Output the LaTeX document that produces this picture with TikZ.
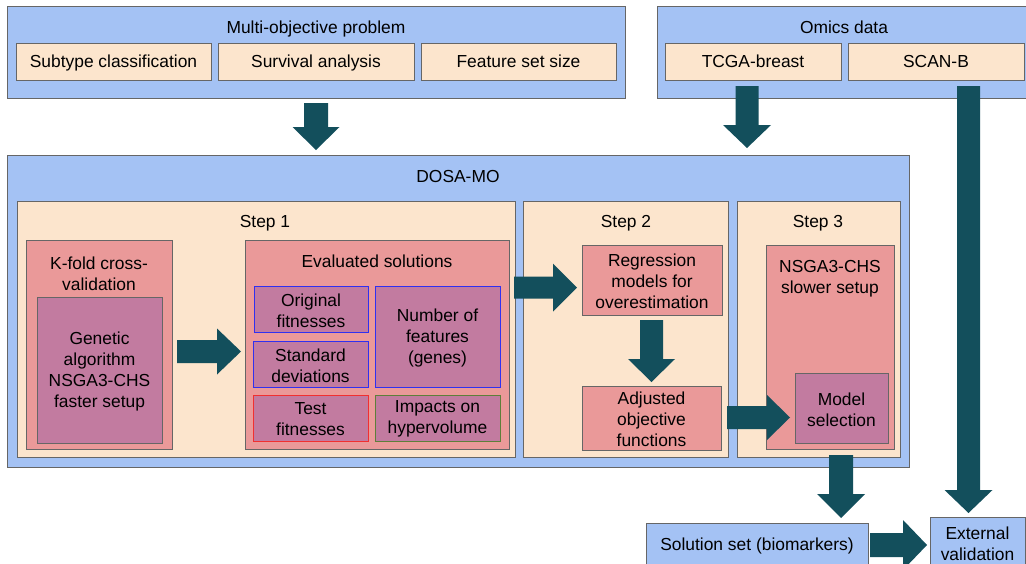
\documentclass[tikz,border=0pt]{standalone}
\usepackage{fontspec}
\setmainfont{Liberation Sans}
\usetikzlibrary{fit}
\definecolor{blueF}{HTML}{A4C2F4}
\definecolor{peachF}{HTML}{FCE5CD}
\definecolor{pinkF}{HTML}{EA9999}
\definecolor{mauveF}{HTML}{C27BA0}
\definecolor{arrowc}{HTML}{134F5C}
\definecolor{borderc}{HTML}{666666}
\definecolor{blueB}{HTML}{3030F0}
\definecolor{redB}{HTML}{F03030}
\definecolor{oliveB}{HTML}{5E7F3A}
\newcommand\DArr[6]{\fill[arrowc] (#1-#5,#2) -- (#1+#5,#2) -- (#1+#5,#3) -- (#1+#6,#3) -- (#1,#4) -- (#1-#6,#3) -- (#1-#5,#3) -- cycle;}
\newcommand\RArr[6]{\fill[arrowc] (#2,#1-#5) -- (#2,#1+#5) -- (#3,#1+#5) -- (#3,#1+#6) -- (#4,#1) -- (#3,#1-#6) -- (#3,#1-#5) -- cycle;}
\newcommand\bx[5]{\node[#1, fit={(#3) (#4)}] (#2) {}; \node[lbl] (#2-t) at (#2.center) {#5};}
\newcommand\bxs[5]{\node[#1, fit={(#3) (#4)}] (#2) {}; \node[lblone] (#2-t) at (#2.center) {#5};}
\tikzset{
  every node/.style={font=\fontsize{17.4}{21}\selectfont, text=black},
  box/.style={draw=borderc, line width=1pt, inner sep=0pt},
  bluebox/.style={box, fill=blueF},
  peachbox/.style={box, fill=peachF},
  pinkbox/.style={box, fill=pinkF},
  mauvebox/.style={box, fill=mauveF},
  lbl/.style={inner sep=0pt, align=center, yshift=-1.3pt},
  lblone/.style={inner sep=0pt, text height=12.5pt, text depth=3.5pt, yshift=-1.3pt}
}
\begin{document}
\begin{tikzpicture}[x=1pt,y=-1pt]
\useasboundingbox (0,0) rectangle (1026,563);
\clip (0,0) rectangle (1026,563);
\fill[white] (0,0) rectangle (1026,563);
% top boxes
\node[bluebox, fit={(7,6) (625,98)}] (mop) {};
\node[lblone] (moptitle) at (316,28) {Multi-objective problem};
\bxs{peachbox}{subtype}{16,43}{211,80}{Subtype classification}
\bxs{peachbox}{surv}{218,43}{414,80}{Survival analysis}
\bxs{peachbox}{fss}{421,43}{616,80}{Feature set size}
\node[bluebox, fit={(657,6) (1031,98)}] (omics) {};
\node[lblone] (omicstitle) at (844,28) {Omics data};
\bxs{peachbox}{tcga}{665,43}{841,80}{TCGA-breast}
\bxs{peachbox}{scanb}{848,43}{1024,80}{SCAN-B}
% DOSA-MO
\node[bluebox, fit={(7,155) (909,467)}] (dosa) {};
\node[lblone] (dosatitle) at (458,177) {DOSA-MO};
\node[peachbox, fit={(17,201) (515,457)}] (step1) {};
\node[lblone] (s1title) at (265,222) {Step 1};
\node[peachbox, fit={(523,201) (728,457)}] (step2) {};
\node[lblone] (s2title) at (626,222) {Step 2};
\node[peachbox, fit={(737,201) (900,457)}] (step3) {};
\node[lblone] (s3title) at (818,222) {Step 3};
% step 1 content
\node[pinkbox, fit={(26,240) (172,449)}] (kfold) {};
\node[lbl] (kfoldtitle) at (99,272) {K-fold cross-\\validation};
\bx{mauvebox}{ga}{37,297}{162,443}{Genetic\\algorithm\\NSGA3-CHS\\faster setup}
\node[pinkbox, fit={(245,240) (509,449)}] (evals) {};
\node[lblone] (evalstitle) at (377,262) {Evaluated solutions};
\bx{mauvebox, draw=blueB}{orig}{254,286}{368,332}{Original\\fitnesses}
\bx{mauvebox, draw=blueB}{std}{253,341}{368,387}{Standard\\deviations}
\bx{mauvebox, draw=redB}{test}{253,395}{368,441}{Test\\fitnesses}
\bx{mauvebox, draw=blueB}{nfeat}{375,286}{500,387}{Number of\\features\\(genes)}
\bx{mauvebox, draw=oliveB}{impact}{375,395}{500,441}{Impacts on\\hypervolume}
% step 2 content
\bx{pinkbox}{regr}{582,245}{722,315}{Regression\\models for\\overestimation}
\bx{pinkbox}{adj}{582,386}{721,450}{Adjusted\\objective\\functions}
% step 3 content
\node[pinkbox, fit={(766,245) (894,449)}] (nsgaslow) {};
\node[lbl] (nsgatitle) at (830,277) {NSGA3-CHS\\slower setup};
\bx{mauvebox}{modsel}{795,373}{888,443}{Model\\selection}
% bottom
\bxs{bluebox}{sol}{646,523}{868,567}{Solution set (biomarkers)}
\bx{bluebox}{ext}{930,517}{1025,568}{External\\validation}
% arrows
\DArr{316}{103}{127}{150}{12}{23.5}
\DArr{747}{86}{125}{148}{11.5}{24}
\DArr{968.5}{86}{490}{513}{11.5}{24}
\DArr{841}{455}{494}{518}{12}{24}
\DArr{651.5}{320}{359}{382}{11.5}{23.5}
\RArr{351.5}{177}{217}{241}{11.5}{23}
\RArr{287.5}{514}{553}{577}{11}{24}
\RArr{417.5}{727}{767}{790}{11.5}{22.5}
\RArr{545}{870}{903}{927}{12}{25}
\end{tikzpicture}
\end{document}
